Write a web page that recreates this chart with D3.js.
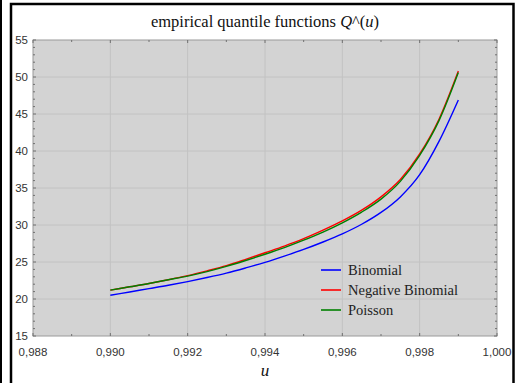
<!DOCTYPE html>
<html><head><meta charset="utf-8">
<script src="https://cdn.jsdelivr.net/npm/d3@7"></script>
<style>body{margin:0;background:#fff}svg{display:block}</style>
</head><body>
<svg id="c" width="518" height="383"></svg>
<script>
const u = [0.9900,0.9905,0.9910,0.9915,0.9920,0.9925,0.9930,0.9935,0.9940,0.9945,0.9950,0.9955,0.9960,0.9965,0.9970,0.9975,0.9980,0.9985,0.9990];
const binomial = [20.5,20.95,21.4,21.85,22.35,22.9,23.5,24.2,24.95,25.8,26.7,27.7,28.8,30.1,31.7,33.8,36.8,41.3,46.9];
const negBinomial = [21.2,21.65,22.1,22.6,23.15,23.8,24.5,25.35,26.25,27.15,28.15,29.3,30.55,32.0,33.8,36.15,39.6,44.3,50.8];
const poisson = [21.2,21.65,22.1,22.6,23.1,23.7,24.4,25.2,26.05,26.95,27.95,29.05,30.3,31.75,33.5,35.9,39.4,44.1,50.6];
const seriesNames = ["Binomial","Negative Binomial","Poisson"];
const seriesColors = ["#0000ff","#ff0000","#008000"];
const xTicks = [0.988,0.990,0.992,0.994,0.996,0.998,1.000];
const xTickLabels = ["0,988","0,990","0,992","0,994","0,996","0,998","1,000"];
const yTicks = [15,20,25,30,35,40,45,50,55];

const svg = d3.select("#c");
const L=33,R=497,T=40,B=336;
const x = d3.scaleLinear().domain([0.988,1.000]).range([L,R]);
const y = d3.scaleLinear().domain([15,55]).range([B,T]);

// outer frame
svg.append("rect").attr("x",0).attr("y",0).attr("width",2).attr("height",383).attr("fill","#000");
svg.append("rect").attr("x",11).attr("y",4).attr("width",502.5).attr("height",420)
  .attr("fill","none").attr("stroke","#000").attr("stroke-width",2.5);

// plot bg
svg.append("rect").attr("x",L).attr("y",T).attr("width",R-L).attr("height",B-T).attr("fill","#d3d3d3");

// grid
const g = svg.append("g");
g.selectAll(".gx").data(xTicks.slice(1,-1)).enter().append("line")
  .attr("x1",d=>x(d)).attr("x2",d=>x(d)).attr("y1",T).attr("y2",B)
  .attr("stroke","#c2c2c2").attr("stroke-width",1);
g.selectAll(".gy").data(yTicks.slice(1,-1)).enter().append("line")
  .attr("x1",L).attr("x2",R).attr("y1",d=>y(d)).attr("y2",d=>y(d))
  .attr("stroke","#c2c2c2").attr("stroke-width",1);

// border
svg.append("rect").attr("x",L).attr("y",T).attr("width",R-L).attr("height",B-T)
  .attr("fill","none").attr("stroke","#9a9a9a").attr("stroke-width",1);

// ticks
const tk = svg.append("g").attr("stroke","#707070").attr("stroke-width",1);
const xMinor = d3.range(0.988,1.0005,0.001);
xMinor.forEach((d,i)=>{
  const len = (i%2===0)?3:2;
  tk.append("line").attr("x1",x(d)).attr("x2",x(d)).attr("y1",T).attr("y2",T+len);
  tk.append("line").attr("x1",x(d)).attr("x2",x(d)).attr("y1",B).attr("y2",B-len);
});
d3.range(15,56,1).forEach(d=>{
  const len = (d%5===0)?3:2;
  tk.append("line").attr("x1",L).attr("x2",L+len).attr("y1",y(d)).attr("y2",y(d));
  tk.append("line").attr("x1",R).attr("x2",R-len).attr("y1",y(d)).attr("y2",y(d));
});

// tick labels
svg.append("g").selectAll("text").data(xTicks).enter().append("text")
  .attr("x",d=>x(d)).attr("y",356).attr("text-anchor","middle")
  .attr("font-family","Liberation Sans, Arial, sans-serif").attr("font-size",11.5).attr("fill","#333")
  .text((d,i)=>xTickLabels[i]);
svg.append("g").selectAll("text").data(yTicks).enter().append("text")
  .attr("x",28).attr("y",d=>y(d)+4).attr("text-anchor","end")
  .attr("font-family","Liberation Sans, Arial, sans-serif").attr("font-size",11.5).attr("fill","#333")
  .text(d=>d);

// title
const t = svg.append("text").attr("x",265).attr("y",27).attr("text-anchor","middle")
  .attr("font-family","Liberation Serif, Times New Roman, serif").attr("font-size",16.5).attr("fill","#111");
t.append("tspan").text("empirical quantile functions ");
t.append("tspan").attr("font-style","italic").text("Q");
t.append("tspan").text("^(");
t.append("tspan").attr("font-style","italic").text("u");
t.append("tspan").text(")");

svg.append("text").attr("x",265).attr("y",376).attr("text-anchor","middle")
  .attr("font-family","Liberation Serif, Times New Roman, serif").attr("font-style","italic")
  .attr("font-size",17).attr("fill","#111").text("u");

// lines
const line = d3.line().x(d=>x(d[0])).y(d=>y(d[1])).curve(d3.curveMonotoneX);
const allSeries = [binomial,negBinomial,poisson];
allSeries.forEach((s,i)=>{
  svg.append("path").datum(u.map((v,j)=>[v,s[j]])).attr("d",line)
    .attr("fill","none").attr("stroke",seriesColors[i]).attr("stroke-width",1.4);
});

// legend
const lg = svg.append("g");
seriesNames.forEach((n,i)=>{
  const yy = 270 + i*20;
  lg.append("line").attr("x1",321).attr("x2",341).attr("y1",yy).attr("y2",yy)
    .attr("stroke",seriesColors[i]).attr("stroke-width",1.6);
  lg.append("text").attr("x",348).attr("y",yy+5)
    .attr("font-family","Liberation Serif, Times New Roman, serif").attr("font-size",14.5).attr("fill","#222").text(n);
});
</script>
</body></html>
